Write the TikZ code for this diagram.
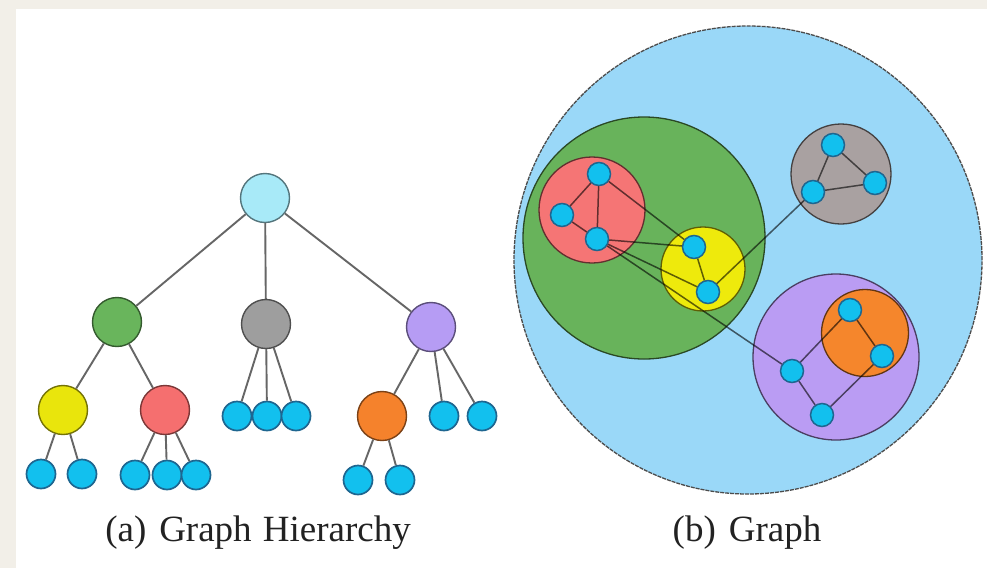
\documentclass[tikz,border=0pt]{standalone}
\usepackage{fontspec}
\setmainfont{Liberation Serif}
\definecolor{cream}{HTML}{F2EFE8}
\definecolor{leafblue}{HTML}{12C0EE}
\definecolor{leafedge}{HTML}{1E6690}
\definecolor{rootc}{HTML}{A8EAF8}
\definecolor{greenc}{HTML}{69B55C}
\definecolor{grayc}{HTML}{9E9E9E}
\definecolor{purplec}{HTML}{B69CF4}
\definecolor{yellowc}{HTML}{E9E50C}
\definecolor{redc}{HTML}{F56F6F}
\definecolor{orangec}{HTML}{F5822C}
\definecolor{bigblue}{HTML}{9AD8F8}
\definecolor{ggreen}{HTML}{68B35B}
\definecolor{ggray}{HTML}{A9A1A1}
\definecolor{gyellow}{HTML}{EEEA0C}
\definecolor{gpurple}{HTML}{BA9CF3}
\definecolor{gorange}{HTML}{F5862C}
\definecolor{gred}{HTML}{F57575}
\definecolor{edgegray}{HTML}{666666}
\definecolor{captxt}{HTML}{222222}
\begin{document}
\begin{tikzpicture}[x=1pt,y=-1pt,
  treenode/.style={circle, draw=#1!50!black, fill=#1, minimum size=49pt, inner sep=0pt, line width=1.4pt},
  leaf/.style={circle, draw=leafedge, fill=leafblue, minimum size=29pt, inner sep=0pt, line width=1.7pt},
  gnode/.style={circle, draw=leafedge, fill=leafblue, minimum size=23pt, inner sep=0pt, line width=1.5pt},
  cluster/.style={circle, draw=#1!40!black, fill=#1, inner sep=0pt, line width=1.3pt},
  tedge/.style={draw=edgegray, line width=1.9pt},
  gedge/.style={draw=black, draw opacity=0.6, line width=1.5pt},
  caption/.style={text=captxt, font=\fontsize{37}{40}\selectfont, inner sep=0pt, anchor=base}
]
% background
\fill[cream] (0,0) rectangle (987,568);
\fill[white] (16,9) rectangle (987,568);
\useasboundingbox (0,0) rectangle (987,568);

% ---------- (a) tree ----------
\node[treenode=rootc]   (root) at (265,198) {};
\node[treenode=greenc]  (tg)   at (117,322) {};
\node[treenode=grayc]   (tk)   at (266,324) {};
\node[treenode=purplec] (tp)   at (431,327) {};
\node[treenode=yellowc] (ty)   at (63,410) {};
\node[treenode=redc]    (tr)   at (165,410) {};
\node[treenode=orangec] (to)   at (382,416) {};
\node[leaf] (k1) at (237,416) {};
\node[leaf] (k2) at (267,416) {};
\node[leaf] (k3) at (296,416) {};
\node[leaf] (p1) at (444,416) {};
\node[leaf] (p2) at (482,416) {};
\node[leaf] (y1) at (41,474) {};
\node[leaf] (y2) at (82,474) {};
\node[leaf] (r1) at (135,475) {};
\node[leaf] (r2) at (167,475) {};
\node[leaf] (r3) at (196,475) {};
\node[leaf] (o1) at (358,480) {};
\node[leaf] (o2) at (400,480) {};
\foreach \a/\b in {root/tg, root/tk, root/tp, tg/ty, tg/tr, tk/k1, tk/k2, tk/k3,
  tp/to, tp/p1, tp/p2, ty/y1, ty/y2, tr/r1, tr/r2, tr/r3, to/o1, to/o2}
  \draw[tedge] (\a) -- (\b);

% ---------- (b) graph ----------
\node[cluster=bigblue, minimum size=468pt, draw=black!70, dash pattern=on 4pt off 1pt] (G) at (748,260) {};
\node[cluster=ggreen,  minimum size=242pt] (Cg) at (644,238) {};
\node[cluster=gred,    minimum size=106pt] (Cr) at (592,210) {};
\node[cluster=gyellow, minimum size=84pt]  (Cy) at (703,269) {};
\node[cluster=ggray,   minimum size=100pt] (Ck) at (841,174) {};
\node[cluster=gpurple, minimum size=166pt] (Cp) at (836,357) {};
\node[cluster=gorange, minimum size=87pt]  (Co) at (865,333) {};

\node[gnode] (ra) at (599,174) {};
\node[gnode] (rb) at (562,215) {};
\node[gnode] (rc) at (597,239) {};
\node[gnode] (ya) at (694,247) {};
\node[gnode] (yb) at (708,292) {};
\node[gnode] (ka) at (833,145) {};
\node[gnode] (kb) at (813,192) {};
\node[gnode] (kc) at (875,183) {};
\node[gnode] (oa) at (850,310) {};
\node[gnode] (ob) at (882,356) {};
\node[gnode] (pa) at (792,371) {};
\node[gnode] (pb) at (822,415) {};
\foreach \a/\b in {ra/rb, ra/rc, rb/rc, ra/ya, rc/ya, rc/yb, rc/pa, ya/yb, yb/kb,
  ka/kb, ka/kc, kb/kc, oa/ob, oa/pa, pa/pb, pb/ob}
  \draw[gedge] (\a) -- (\b);

% captions
\node[caption] (capa) at (258,541) {(a)\hspace{0.35em}Graph\hspace{0.3em}Hierarchy};
\node[caption] (capb) at (747,541) {(b)\hspace{0.35em}Graph};
\end{tikzpicture}
\end{document}
